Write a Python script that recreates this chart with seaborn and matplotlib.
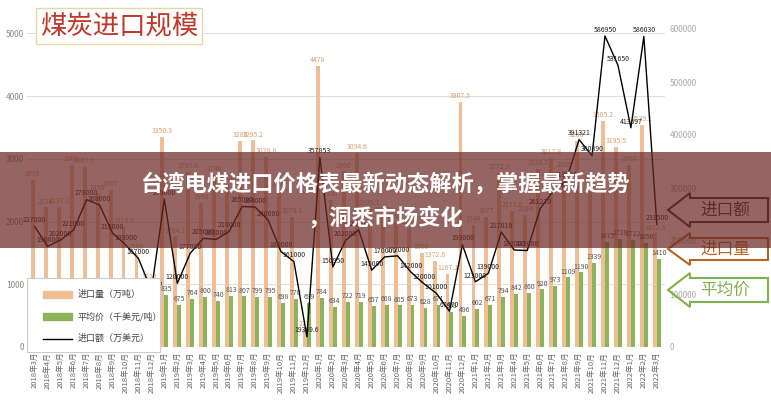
import matplotlib
matplotlib.use("Agg")
import matplotlib.pyplot as plt
import seaborn as sns
import pandas as pd
import numpy as np
from matplotlib.patches import Polygon, Rectangle

plt.rcParams["font.family"] = "Noto Sans CJK SC"

months = [f"{y}年{m}月" for y, m in
          [(2018, m) for m in range(3, 13)] + [(2019, m) for m in range(1, 13)] +
          [(2020, m) for m in range(1, 13)] + [(2021, m) for m in range(1, 13)] +
          [(2022, m) for m in range(1, 4)]]

volume = [2670, 2226, 2233.3, 2900, 2867.9, 2450, 2507, 1915.9, 1500, 1023,
          3350.3, 1764.1, 2797.8, 2300, 2746, 2600, 3288, 3295.2, 3028.8, 2500,
          2078.1, 277, 4478, 2350, 2800, 3094.6, 2205.7, 2100, 2000, 1900,
          1500, 1372.6, 1167.1, 3907.5, 1946, 2077, 2772.9, 2173.6, 2104, 2839.2,
          3017.8, 2805, 3288, 2604, 3605.2, 3195.5, 2900, 3539.1, 1812.3]
price = [780, 790, 800, 820, 854, 840, 800, 780, 760, 740,
         835, 675, 764, 800, 740, 813, 807, 799, 795, 698,
         770, 699, 784, 634, 722, 719, 657, 668, 665, 673,
         628, 671, 558, 496, 602, 671, 794, 842, 860, 920,
         973, 1109, 1190, 1339, 1675, 1718, 1712, 1656, 1410]
amount = [227000, 190000, 202000, 221000, 278000, 268000, 215000, 193000, 167000, 107000,
          279000, 120000, 177000, 205000, 203000, 218000, 265000, 264000, 240000, 180000,
          161000, 19369.6, 357853, 150950, 202000, 221000, 145000, 170000, 172000, 142000,
          120000, 101000, 67470, 193000, 123000, 139000, 217010, 183000, 182000, 261210,
          294000, 313000, 391321.4, 360890, 586950, 531649.6, 413697, 586030, 231500]

n = len(months)
df = pd.DataFrame({"month": months * 2,
                   "value": volume + price,
                   "series": ["进口量（万吨）"] * n + ["平均价（千美元/吨）"] * n})

fig = plt.figure(figsize=(7.71, 4.0), dpi=100)
ax = fig.add_axes([0.035, 0.1325, 0.827, 0.795])
orange, green = "#EFBE95", "#8DB35A"
sns.barplot(data=df, x="month", y="value", hue="series", palette=[orange, green],
            width=0.6, ax=ax, legend=False, saturation=1)
ax.set_ylim(0, 5070)
ax.set_xlim(-0.6, n - 0.4)
ax.set_yticks([0, 1000, 2000, 3000, 4000, 5000])
ax.tick_params(axis="y", labelsize=6, colors="#888888", length=0, pad=2)
ax.tick_params(axis="x", labelsize=5.5, colors="#666666", length=0, rotation=90)
ax.grid(axis="y", color="#DDDDDD", lw=0.7)
ax.set_axisbelow(True)
for s in ax.spines.values():
    s.set_visible(False)
ax.set_xlabel(""); ax.set_ylabel("")

ax2 = ax.twinx()
sns.lineplot(x=np.arange(n), y=amount, color="black", lw=1, ax=ax2)
ax2.set_ylim(0, 600000)
ax2.set_yticks(range(0, 600001, 100000))
ax2.tick_params(axis="y", labelsize=6, colors="#AAAAAA", length=0)
for s in ax2.spines.values():
    s.set_visible(False)

for i in range(n):
    ax.text(i - 0.15, volume[i] + 60, f"{volume[i]:g}", fontsize=5, color="#D9A070", ha="center")
    ax.text(i + 0.15, price[i] + 60, f"{price[i]:g}", fontsize=5, color="#555555", ha="center")
    ax2.text(i, amount[i] + 8000, f"{amount[i]:g}", fontsize=5, color="#222222", ha="center")

# legend box
lg = fig.add_axes([27/771, 1-352/400, 133/771, 74/400])
lg.set_xlim(0, 1); lg.set_ylim(0, 1); lg.set_xticks([]); lg.set_yticks([])
for s in lg.spines.values():
    s.set_color("#CCCCCC")
entries = [("进口量（万吨）", orange, "bar"), ("平均价（千美元/吨）", green, "bar"), ("进口额（万美元）", "black", "line")]
for k, (lab, c, kind) in enumerate(entries):
    yy = 0.78 - k * 0.3
    if kind == "bar":
        lg.add_patch(Rectangle((0.12, yy - 0.05), 0.22, 0.1, color=c))
    else:
        lg.plot([0.12, 0.34], [yy, yy], color=c, lw=1)
    lg.text(0.38, yy, lab, fontsize=6.5, va="center", color="#444444")

# title
fig.text(40/771, 1-26/400, "煤炭进口规模", fontsize=19, color="#C0392B", va="center",
         bbox=dict(facecolor="white", edgecolor="#E8D8A0", pad=3))

# right arrows
def arrow(y0, y1, col, label, tcol):
    x0, x1, tip = 680, 768, 668
    mid = (y0 + y1) / 2
    pts = [(tip, mid), (x0 + 10, y0 - 5), (x0 + 10, y0), (x1, y0), (x1, y1), (x0 + 10, y1), (x0 + 10, y1 + 5)]
    pts = [(x / 771, 1 - y / 400) for x, y in pts]
    fig.patches.append(Polygon(pts, closed=True, fill=False, edgecolor=col, lw=1.5, transform=fig.transFigure))
    fig.text(725 / 771, 1 - mid / 400, label, fontsize=12, color=tcol, ha="center", va="center")

arrow(198, 222, "#3A2A2A", "进口额", "#3A2A2A")
arrow(238, 260, "#B5651D", "进口量", "#B5651D")
arrow(278, 302, "#7FB24A", "平均价", "#7FB24A")

# banner
fig.patches.append(Rectangle((0, 1 - 248 / 400), 1, 96 / 400, transform=fig.transFigure,
                             facecolor="#6B2A26", alpha=0.72, zorder=10))
fig.text(0.5, 1 - 184 / 400, "台湾电煤进口价格表最新动态解析，掌握最新趋势", fontsize=16,
         color="white", weight="bold", ha="center", va="center", zorder=11)
fig.text(0.5, 1 - 218 / 400, "，洞悉市场变化", fontsize=16,
         color="white", weight="bold", ha="center", va="center", zorder=11)

fig.savefig("out.png", dpi=100)
